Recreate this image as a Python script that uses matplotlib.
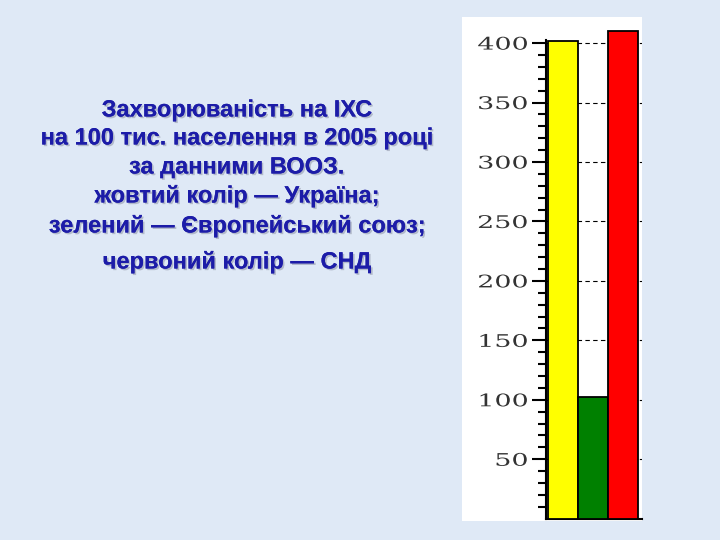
import matplotlib
matplotlib.use('Agg')
import matplotlib.pyplot as plt
import matplotlib.patheffects as pe
from matplotlib.patches import Rectangle
from matplotlib.ticker import FixedLocator
from matplotlib.transforms import Affine2D

# дані
regions = ['Україна', 'Європейський союз', 'СНД']
values = [402, 102, 410]
colors = ['#ffff00', '#008000', '#ff0000']
yticks = [50, 100, 150, 200, 250, 300, 350, 400]
minor_ticks = list(range(10, 401, 10))

lines = ['Захворюваність на ІХС',
         'на 100 тис. населення в 2005 році',
         'за данними ВООЗ.',
         'жовтий колір — Україна;',
         'зелений — Європейський союз;',
         'червоний колір — СНД']
line_y = [110, 138, 167, 196, 226, 262]


class Stretch(pe.AbstractPathEffect):
    # розтягує підпис по горизонталі, праве вирівнювання зберігається
    def __init__(self, sx):
        super().__init__()
        self.sx = sx

    def draw_path(self, renderer, gc, tpath, affine, rgbFace=None):
        w = tpath.get_extents().x1
        t = Affine2D().scale(self.sx, 1).translate(-(self.sx - 1) * w, 0) + affine
        renderer.draw_path(gc, tpath, t, rgbFace)


fig = plt.figure(figsize=(7.2, 5.4), dpi=100)
fig.patch.set_facecolor('#dfe9f6')

# біла підкладка під діаграмою
fig.add_artist(Rectangle((462/720, 19/540), 180/720, 504/540,
                         transform=fig.transFigure, facecolor='white',
                         edgecolor='none', zorder=0))

ax = fig.add_axes([546/720, 21.3/540, 96/720, 499.4/540])
ax.set_facecolor('white')
x = range(len(values))
ax.bar(x, values, width=1.0, color=colors, edgecolor='black', linewidth=1.3, zorder=3)
ax.set_xlim(-0.57, 2.63)
ax.set_ylim(0, 420)
ax.set_yticks(yticks)
ax.yaxis.set_minor_locator(FixedLocator(minor_ticks))
ax.set_xticks([])
ax.yaxis.grid(True, which='major', color='black', linestyle=(0, (4, 3)), linewidth=0.8, zorder=1)
for s in ['top', 'right']:
    ax.spines[s].set_visible(False)
ax.spines['left'].set_linewidth(1.5)
ax.spines['left'].set_bounds(0, 403)
ax.spines['bottom'].set_linewidth(1.5)
ax.tick_params(axis='y', which='major', length=10, width=1.5, pad=3,
               labelsize=12.5, labelfontfamily='DejaVu Serif', labelcolor='#333333')
ax.tick_params(axis='y', which='minor', length=6, width=1.5)
for tk in ax.yaxis.get_major_ticks():
    tk.label1.set_path_effects([Stretch(1.55)])

shadow = [pe.withSimplePatchShadow(offset=(1.2, -1.2), shadow_rgbFace='#a0a6b8', alpha=0.7), pe.Normal()]
for t, y in zip(lines, line_y):
    fig.text(237/720, 1 - y/540, t, ha='center', va='center', fontsize=17,
             fontweight='bold', family='Liberation Sans', color='#1c1ca8',
             path_effects=shadow)

fig.savefig('out.png', dpi=100, facecolor=fig.get_facecolor())
